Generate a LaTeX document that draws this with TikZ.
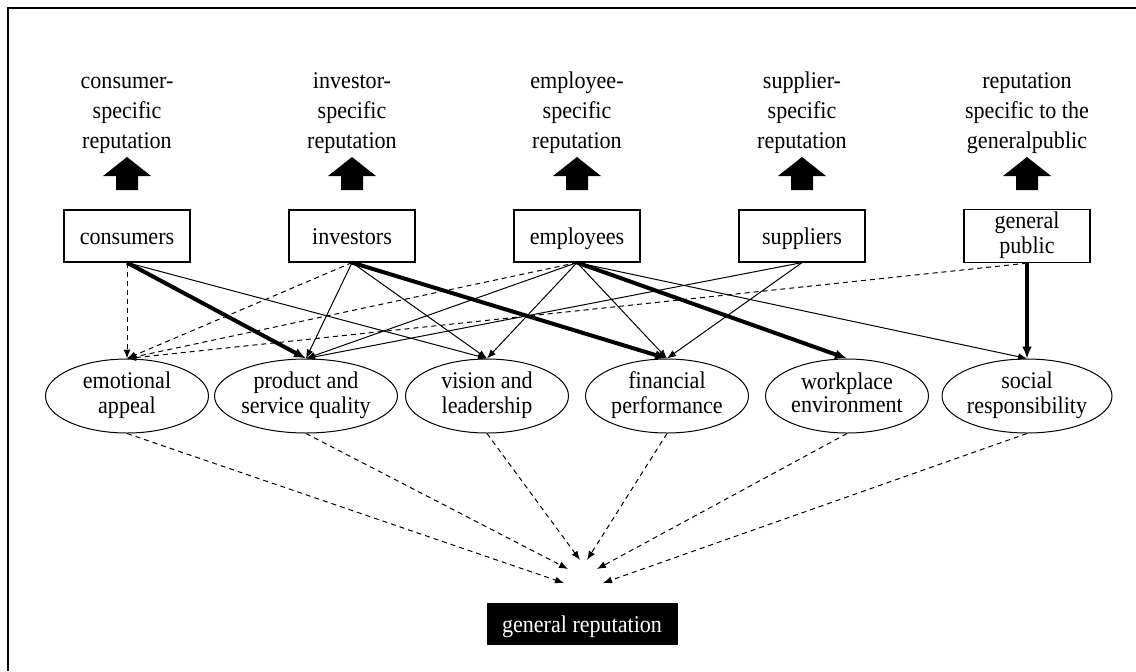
\documentclass[tikz,border=0pt]{standalone}
\usepackage{fontspec}
\setmainfont{Liberation Serif}[FakeStretch=0.92]
\usetikzlibrary{arrows.meta,shapes.geometric}
\begin{document}
\begin{tikzpicture}[x=0.5pt,y=-0.5pt,
  font=\fontsize{12}{11.5}\selectfont,
  stakeholder/.style={draw, line width=0.6pt, minimum width=63pt, minimum height=26pt,
    align=center, inner sep=1pt},
  oneline/.style={text height=9.5pt, text depth=1pt},
  driver/.style={draw, ellipse, line width=0.5pt, minimum width=81.5pt, minimum height=37pt,
    inner sep=0pt, align=center},
  toplabel/.style={align=center, font=\fontsize{12}{15}\selectfont, inner sep=0pt},
  result/.style={fill=black, text=white, minimum width=95.5pt, minimum height=21pt, inner sep=0pt},
  solidlink/.style={-{Latex[length=4.5pt,width=3.5pt]}, line width=0.5pt},
  stronglink/.style={-{Latex[length=6pt,width=5pt]}, line width=2pt},
  weaklink/.style={-{Latex[length=4.5pt,width=3.5pt]}, line width=0.5pt, dash pattern=on 2.5pt off 2pt},
  uparrow/.style={fill=black},
]
\useasboundingbox (0,0) rectangle (1136,671);

% frame
\draw[line width=1pt] (8,671) -- (8,8) -- (1136,8);

% stakeholder-specific reputations
\node[toplabel] (r1) at (127,112) {\strut consumer-\\\strut specific\\\strut reputation};
\node[toplabel] (r2) at (352,112) {\strut investor-\\\strut specific\\\strut reputation};
\node[toplabel] (r3) at (577,112) {\strut employee-\\\strut specific\\\strut reputation};
\node[toplabel] (r4) at (802,112) {\strut supplier-\\\strut specific\\\strut reputation};
\node[toplabel] (r5) at (1027,112) {\strut reputation\\\strut specific to the\\\strut generalpublic};

% block arrows from each stakeholder up to its reputation
\foreach \x in {127,352,577,802,1027}
  \fill[uparrow] (\x,157) -- (\x+24,176) -- (\x+11,176) -- (\x+11,190)
    -- (\x-11,190) -- (\x-11,176) -- (\x-24,176) -- cycle;

% stakeholders
\node[stakeholder,oneline] (b1) at (127,236) {consumers};
\node[stakeholder,oneline] (b2) at (352,236) {investors};
\node[stakeholder,oneline] (b3) at (577,236) {employees};
\node[stakeholder,oneline] (b4) at (802,236) {suppliers};
\node[stakeholder] (b5) at (1027,236) {\strut general\\\strut public};

% reputation drivers
\node[driver] (e1) at (127,396) {\strut emotional\\\strut appeal};
\node[driver] (e2) at (306,396) {\strut product and\\\strut service quality};
\node[driver] (e3) at (487,396) {\strut vision and\\\strut leadership};
\node[driver] (e4) at (667,396) {\strut financial\\\strut performance};
\node[driver] (e5) at (847,396) {\strut workplace\\\strut environment};
\node[driver] (e6) at (1027,396) {\strut social\\\strut responsibility};

% general reputation
\node[result,oneline] (g) at (582,624) {general reputation};
\coordinate (t1) at (564,583);
\coordinate (t2) at (568,569);
\coordinate (t3) at (580,560);
\coordinate (t4) at (587,560);
\coordinate (t5) at (597,569);
\coordinate (t6) at (603,583);

% consumers
\draw[weaklink] (b1.south) -- (e1.north);
\draw[stronglink] (b1.south) -- (e2.north);
\draw[solidlink] (b1.south) -- (e3.north);
% investors
\draw[weaklink] (b2.south) -- (e1.north);
\draw[solidlink] (b2.south) -- (e2.north);
\draw[solidlink] (b2.south) -- (e3.north);
\draw[stronglink] (b2.south) -- (e4.north);
% employees
\draw[weaklink] (b3.south) -- (e1.north);
\draw[solidlink] (b3.south) -- (e2.north);
\draw[solidlink] (b3.south) -- (e3.north);
\draw[solidlink] (b3.south) -- (e4.north);
\draw[stronglink] (b3.south) -- (e5.north);
\draw[solidlink] (b3.south) -- (e6.north);
% suppliers
\draw[solidlink] (b4.south) -- (e2.north);
\draw[solidlink] (b4.south) -- (e4.north);
% general public
\draw[weaklink] (b5.south) -- (e1.north);
\draw[stronglink] (b5.south) -- (e6.north);

% drivers feeding the general reputation
\draw[weaklink] (e1.south) -- (t1);
\draw[weaklink] (e2.south) -- (t2);
\draw[weaklink] (e3.south) -- (t3);
\draw[weaklink] (e4.south) -- (t4);
\draw[weaklink] (e5.south) -- (t5);
\draw[weaklink] (e6.south) -- (t6);
\end{tikzpicture}
\end{document}
